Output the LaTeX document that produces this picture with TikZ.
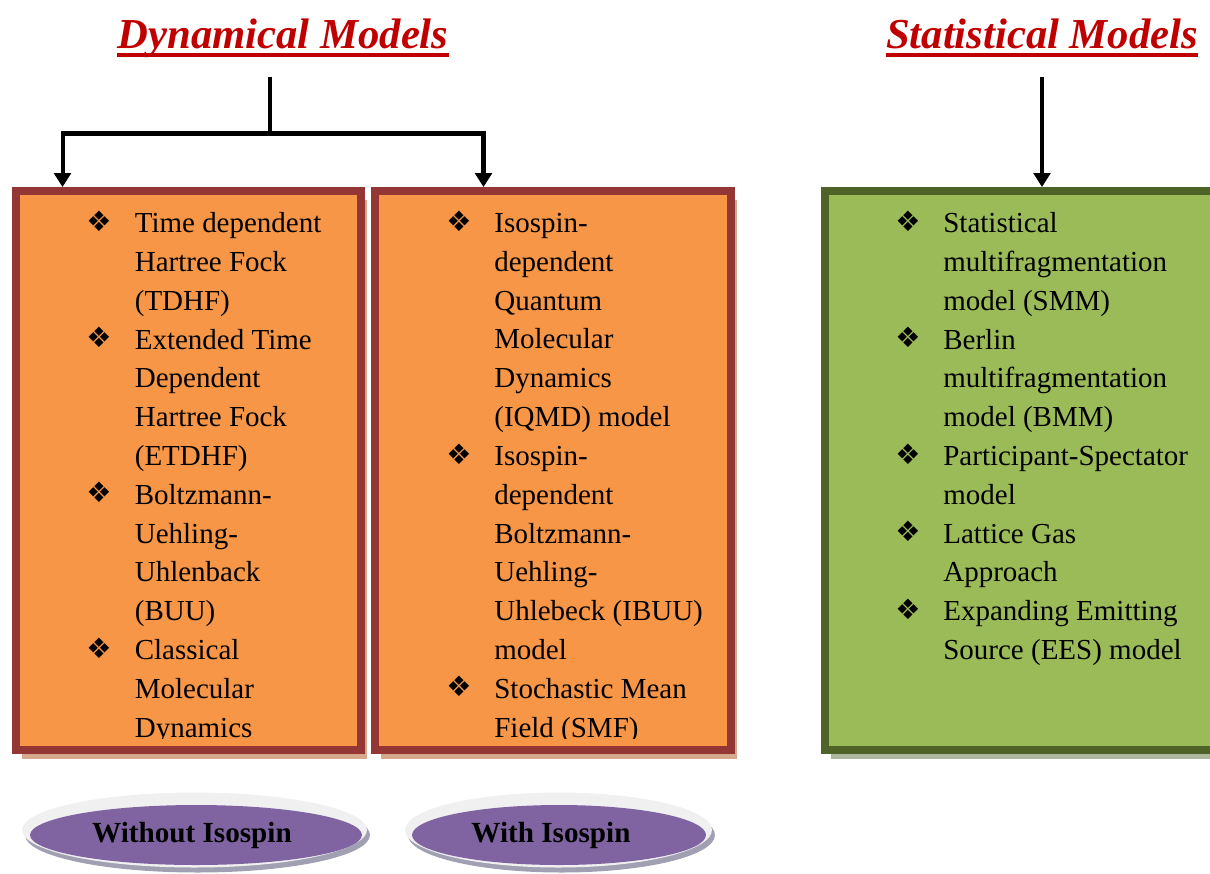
\documentclass[tikz,border=0pt]{standalone}
\usepackage{fontspec}
\setmainfont{Liberation Serif}
\newfontfamily\dingfont{DejaVu Sans}
\usetikzlibrary{arrows.meta,shadows,shapes.geometric}

\definecolor{titlered}{RGB}{192,0,0}
\definecolor{dynfill}{RGB}{247,150,70}
\definecolor{dynline}{RGB}{148,54,52}
\definecolor{dynshade}{RGB}{214,168,140}
\definecolor{statfill}{RGB}{155,187,89}
\definecolor{statline}{RGB}{79,98,40}
\definecolor{statshade}{RGB}{172,184,158}
\definecolor{isofill}{RGB}{128,100,162}
\definecolor{isoring}{RGB}{240,240,240}
\definecolor{isoshade}{RGB}{160,160,178}

\tikzset{
  heading/.style={anchor=base, font=\fontsize{24.3}{29}\selectfont\bfseries\itshape, text=titlered, inner sep=0pt, text depth=5.3pt, outer ysep=11pt},
  headline/.style={draw=titlered, line width=2.3pt},
  link/.style={line width=2.3pt},
  linkarrow/.style={link, -{Triangle[width=9.5pt,length=8pt]}},
  modelbox/.style={rectangle, line width=4.55pt, minimum height=11.18cm},
  dynbox/.style={modelbox, draw=dynline, fill=dynfill, drop shadow={shadow xshift=.12cm, shadow yshift=-.18cm, fill=dynshade, opacity=1}},
  statbox/.style={modelbox, draw=statline, fill=statfill, drop shadow={shadow xshift=.12cm, shadow yshift=-.18cm, fill=statshade, opacity=1}},
  modeltext/.style={anchor=north west, align=left, inner sep=0pt, font=\fontsize{16.5}{22.08}\selectfont},
  bullet/.style={inner sep=0pt, font={\dingfont\fontsize{16}{18}\selectfont}},
  isoring/.style={ellipse, fill=isoring, minimum width=6.9cm, minimum height=1.5cm, drop shadow={shadow xshift=.06cm, shadow yshift=-.1cm, fill=isoshade, opacity=1}},
  isobox/.style={ellipse, fill=isofill, minimum height=1.2cm},
  isotext/.style={anchor=base, inner sep=0pt, font=\fontsize{16.6}{20}\selectfont\bfseries}
}

\begin{document}
\begin{tikzpicture}[x=0.02cm, y=-0.02cm]
  \useasboundingbox (0,0) rectangle (1210,873);

  % headings
  \node[heading] (dyntitle) at (283,48) {Dynamical Models};
  \node[heading] (stattitle) at (1042,48) {Statistical Models};
  \draw[headline] ([yshift=-4pt]dyntitle.base west) -- ([yshift=-4pt]dyntitle.base east);
  \draw[headline] ([yshift=-4pt]stattitle.base west) -- ([yshift=-4pt]stattitle.base east);

  % boxes
  \node[dynbox, minimum width=6.9cm] (nobox) at (188.5,470.5) {};
  \node[dynbox, minimum width=7.12cm] (isobox) at (553,470.5) {};
  \node[statbox, minimum width=7.78cm] (statbox) at (1019.5,470.5) {};

  % connectors
  \coordinate (dynsplit) at (270,133.5);
  \draw[link] (dyntitle.south -| dynsplit) -- (dynsplit);
  \draw[linkarrow] (dynsplit) -| ([xshift=-2.52cm]nobox.north);
  \draw[linkarrow] (dynsplit) -| ([xshift=-1.39cm]isobox.north);
  \draw[linkarrow] (stattitle.south) -- (stattitle.south |- statbox.north);

  % model lists
  \begin{scope}
    \clip (0,0) rectangle (1210,738);
    \node[bullet] (tdhfb) at (99,221) {❖};
    \node[modeltext] (tdhf) at (134.5,205.1) {\strut Time dependent\\Hartree Fock\\(TDHF)};
    \node[bullet] (etdhfb) at (99,337.4) {❖};
    \node[modeltext] (etdhf) at (134.5,321.5) {\strut Extended Time\\Dependent\\Hartree Fock\\(ETDHF)};
    \node[bullet] (buub) at (99,492.6) {❖};
    \node[modeltext] (buu) at (134.5,476.7) {\strut Boltzmann-\\Uehling-\\Uhlenback\\(BUU)};
    \node[bullet] (cmdb) at (99,647.8) {❖};
    \node[modeltext] (cmd) at (134.5,631.9) {\strut Classical\\Molecular\\Dynamics};

    \node[bullet] (iqmdb) at (459,221) {❖};
    \node[modeltext] (iqmd) at (494,205.1) {\strut Isospin-\\dependent\\Quantum\\Molecular\\Dynamics\\(IQMD) model};
    \node[bullet] (ibuub) at (459,453.8) {❖};
    \node[modeltext] (ibuu) at (494,437.9) {\strut Isospin-\\dependent\\Boltzmann-\\Uehling-\\Uhlebeck (IBUU)\\model};
    \node[bullet] (smfb) at (459,686.6) {❖};
    \node[modeltext] (smf) at (494,670.7) {\strut Stochastic Mean\\Field (SMF)};

    \node[bullet] (smmb) at (908,221) {❖};
    \node[modeltext] (smm) at (943,205.1) {\strut Statistical\\multifragmentation\\model (SMM)};
    \node[bullet] (bmmb) at (908,337.4) {❖};
    \node[modeltext] (bmm) at (943,321.5) {\strut Berlin\\multifragmentation\\model (BMM)};
    \node[bullet] (psmb) at (908,453.8) {❖};
    \node[modeltext] (psm) at (943,437.9) {\strut Participant-Spectator\\model};
    \node[bullet] (lgab) at (908,531.4) {❖};
    \node[modeltext] (lga) at (943,515.5) {\strut Lattice Gas\\Approach};
    \node[bullet] (eesb) at (908,609) {❖};
    \node[modeltext] (ees) at (943,593.1) {\strut Expanding Emitting\\Source (EES) model};
  \end{scope}

  % isospin labels
  \node[isoring] (noisoring) at (194.5,830) {};
  \node[isobox, minimum width=6.64cm] (noiso) at (196,835) {};
  \node[isotext] (noisotext) at (192,842) {Without Isospin};
  \node[isoring, minimum width=6.14cm] (withisoring) at (558.5,830) {};
  \node[isobox, minimum width=5.88cm] (withiso) at (559,835) {};
  \node[isotext] (withisotext) at (551,842) {With Isospin};
\end{tikzpicture}
\end{document}
